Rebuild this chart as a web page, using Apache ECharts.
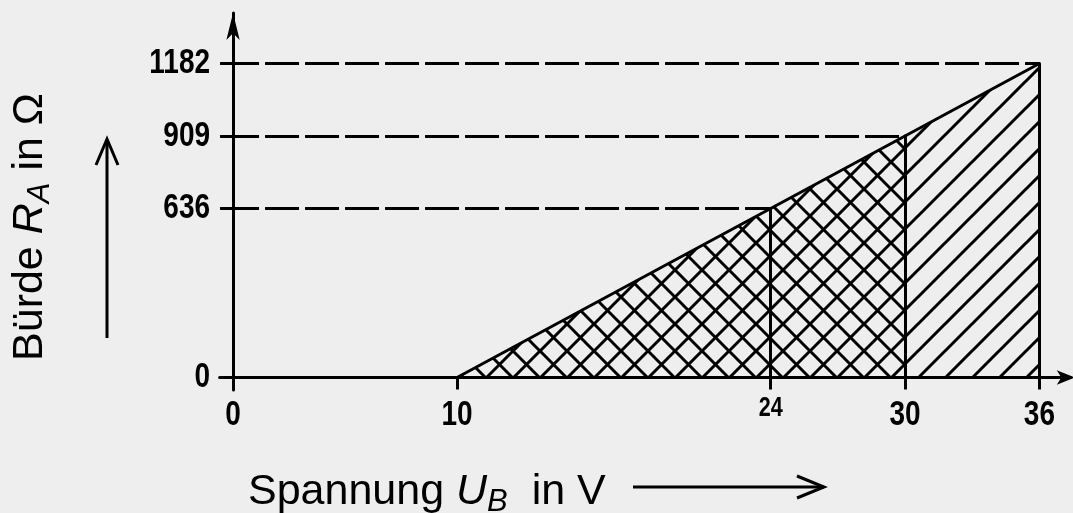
<!DOCTYPE html>
<html>
<head>
<meta charset="utf-8">
<script src="https://cdn.jsdelivr.net/npm/echarts@6/dist/echarts.min.js"></script>
<style>
  html, body { margin: 0; padding: 0; background: #eeeeee; }
  #chart { width: 1073px; height: 513px; }
</style>
</head>
<body>
<div id="chart"></div>
<script>
// Tick positions on both axes
const voltageTicks = [0, 10, 24, 30, 36];
const burdenTicks = [0, 636, 909, 1182];

// Working range: supply voltage U_B (V) and the maximum burden R_A (Ohm)
const voltage = [10, 24, 30, 36];
const burden = [0, 636, 909, 1182];

const TICK_FONT = "'Liberation Sans', Arial, Helvetica, sans-serif";
const TITLE_FONT = "'Liberation Sans', Arial, Helvetica, sans-serif";

// Hatch fills built as small repeating canvas tiles
function hatchTile(size, cross) {
  const c = document.createElement('canvas');
  c.width = size; c.height = size;
  const g = c.getContext('2d');
  g.strokeStyle = '#000';
  g.lineWidth = 3;
  g.lineCap = 'square';
  const seg = (x1, y1, x2, y2) => { g.beginPath(); g.moveTo(x1, y1); g.lineTo(x2, y2); g.stroke(); };
  // "/" direction
  seg(-1, size + 1, size + 1, -1);
  seg(-2, 2, 2, -2);
  seg(size - 2, size + 2, size + 2, size - 2);
  if (cross) {
    // "\" direction
    seg(-1, -1, size + 1, size + 1);
    seg(size - 2, -2, size + 2, 2);
    seg(-2, size - 2, 2, size + 2);
  }
  return c;
}
const crossFill = { image: hatchTile(27, true), repeat: 'repeat' };
const diagFill = { image: hatchTile(27, false), repeat: 'repeat' };

const iCross = voltage.indexOf(30);
const crossPart = voltage.slice(0, iCross + 1).map((v, i) => [v, burden[i]]);
const diagPart = voltage.slice(iCross).map((v, i) => [v, burden[iCross + i]]);

const verticals = voltage.slice(1).map((v, i) => [
  { coord: [v, 0] },
  { coord: [v, burden[i + 1]] }
]);
const dashes = voltage.slice(1).map((v, i) => [
  { coord: [0, burden[i + 1]], lineStyle: { type: [34, 6], dashOffset: 8, width: 3, color: '#000' } },
  { coord: [v, burden[i + 1]] }
]);

// Condensed tick labels placed through the axes' own scales
function tickLabel(text, x, y, align, size) {
  return {
    type: 'text',
    x: x, y: y,
    scaleX: 0.8,
    style: {
      text: text,
      align: align,
      verticalAlign: 'middle',
      fill: '#000',
      font: 'bold ' + size + 'px ' + TICK_FONT
    }
  };
}

const chart = echarts.init(document.getElementById('chart'), null, { renderer: 'canvas' });

chart.setOption({
  backgroundColor: '#eeeeee',
  animation: false,
  grid: { left: 219.6, width: 851.2, top: 13, bottom: 123 },
  xAxis: {
    type: 'value',
    min: -0.6,
    max: 37.4,
    splitLine: { show: false },
    axisLine: {
      show: true,
      onZero: true,
      lineStyle: { color: '#000', width: 3 },
      symbol: ['none', 'arrow'],
      symbolSize: [11, 18],
      symbolOffset: [0, 4]
    },
    axisTick: {
      show: true,
      customValues: voltageTicks,
      length: 12,
      lineStyle: { color: '#000', width: 3 }
    },
    axisLabel: { show: false }
  },
  yAxis: {
    type: 'value',
    min: -47,
    max: 1372,
    splitLine: { show: false },
    axisLine: {
      show: true,
      onZero: true,
      lineStyle: { color: '#000', width: 3 },
      symbol: ['none', 'arrow'],
      symbolSize: [10, 27]
    },
    axisTick: {
      show: true,
      customValues: burdenTicks,
      length: 13,
      lineStyle: { color: '#000', width: 3 }
    },
    axisLabel: { show: false }
  },
  series: [
    {
      name: 'cross',
      type: 'line',
      data: crossPart,
      symbol: 'none',
      silent: true,
      lineStyle: { color: '#000', width: 3, cap: 'round' },
      areaStyle: { color: crossFill, opacity: 1 },
      markLine: {
        silent: true,
        symbol: 'none',
        label: { show: false },
        lineStyle: { color: '#000', width: 3, type: 'solid' },
        data: verticals.concat(dashes)
      },
      z: 3
    },
    {
      name: 'diag',
      type: 'line',
      data: diagPart,
      symbol: 'none',
      silent: true,
      lineStyle: { color: '#000', width: 3, cap: 'round' },
      areaStyle: { color: diagFill, opacity: 1 },
      z: 3
    },
    {
      name: 'voltageLabels',
      type: 'custom',
      coordinateSystem: 'cartesian2d',
      clip: false,
      silent: true,
      data: voltageTicks.map(v => [v, 0]),
      renderItem: (params, api) => {
        const v = api.value(0);
        const p = api.coord([v, 0]);
        return v === 24
          ? tickLabel(String(v), p[0], p[1] + 31, 'center', 27)
          : tickLabel(String(v), p[0], p[1] + 38, 'center', 35);
      }
    },
    {
      name: 'burdenLabels',
      type: 'custom',
      coordinateSystem: 'cartesian2d',
      clip: false,
      silent: true,
      data: burdenTicks.map(r => [0, r]),
      renderItem: (params, api) => {
        const r = api.value(1);
        const p = api.coord([0, r]);
        return tickLabel(String(r), p[0] - 23, p[1], 'right', 35);
      }
    }
  ],
  graphic: [
    {
      type: 'text',
      x: 248,
      y: 492,
      style: {
        text: '{n|Spannung }{i|U}{s|B}{n|  in V}',
        align: 'left',
        verticalAlign: 'middle',
        fill: '#000',
        rich: {
          n: { fontFamily: TITLE_FONT, fontSize: 43, lineHeight: 52, fill: '#000' },
          i: { fontFamily: TITLE_FONT, fontSize: 43, fontStyle: 'italic', lineHeight: 52, fill: '#000' },
          s: { fontFamily: TITLE_FONT, fontSize: 31, fontStyle: 'italic', lineHeight: 38, verticalAlign: 'bottom', fill: '#000' }
        }
      }
    },
    {
      type: 'text',
      x: 30,
      y: 227,
      rotation: Math.PI / 2,
      style: {
        text: '{n|Bürde }{i|R}{s|A}{n| in Ω}',
        align: 'center',
        verticalAlign: 'middle',
        fill: '#000',
        rich: {
          n: { fontFamily: TITLE_FONT, fontSize: 43, lineHeight: 52, fill: '#000' },
          i: { fontFamily: TITLE_FONT, fontSize: 43, fontStyle: 'italic', lineHeight: 52, fill: '#000' },
          s: { fontFamily: TITLE_FONT, fontSize: 31, fontStyle: 'italic', lineHeight: 38, verticalAlign: 'bottom', fill: '#000' }
        }
      }
    },
    // direction arrow under the voltage axis
    { type: 'line', shape: { x1: 633, y1: 487, x2: 824, y2: 487 }, style: { stroke: '#000', lineWidth: 3 } },
    { type: 'polyline', shape: { points: [[797, 476], [824, 487], [797, 498]] }, style: { stroke: '#000', lineWidth: 3, fill: null } },
    // direction arrow beside the burden axis
    { type: 'line', shape: { x1: 107, y1: 338, x2: 107, y2: 140 }, style: { stroke: '#000', lineWidth: 3 } },
    { type: 'polyline', shape: { points: [[96, 165], [107, 139], [118, 165]] }, style: { stroke: '#000', lineWidth: 3, fill: null } }
  ]
});
</script>
</body>
</html>
